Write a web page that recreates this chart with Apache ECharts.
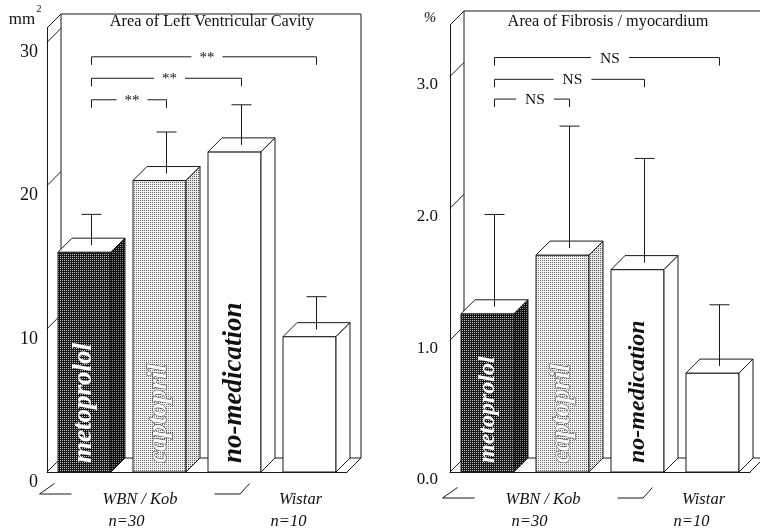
<!DOCTYPE html>
<html><head><meta charset="utf-8">
<script src="https://cdn.jsdelivr.net/npm/echarts@6.0.0/dist/echarts.min.js"></script>
<style>html,body{margin:0;padding:0;background:#fff}#c{width:760px;height:532px}</style>
</head><body><div id="c"></div>
<script>
// ---------------- data ----------------
const categories = ['metoprolol', 'captopril', 'no-medication', 'Wistar'];
const barLabels = ['metoprolol', 'captopril', 'no-medication', ''];
const lvcMean = [15.35, 20.35, 22.35, 9.45];
const lvcSD = [2.15, 2.9, 2.8, 2.3];
const fibMean = [1.2, 1.645, 1.535, 0.75];
const fibSD = [0.7, 0.925, 0.79, 0.465];
const lvcTicks = [0, 10, 20, 30];
const lvcTickLabels = ['0', '10', '20', '30'];
const fibTicks = [0, 1, 2, 3];
const fibTickLabels = ['0.0', '1.0', '2.0', '3.0'];
const lvcBrackets = [[0, 1, 25.5], [0, 2, 27.0], [0, 3, 28.5]];
const lvcBracketText = ['**', '**', '**'];
const fibBrackets = [[0, 1, 2.775], [0, 2, 2.925], [0, 3, 3.09]];
const fibBracketText = ['NS', 'NS', 'NS'];
const groupNames = ['WBN / Kob', 'Wistar'];
const groupSizes = ['n=30', 'n=10'];
const groupCats = [1, 3];
const titles = ['Area of Left Ventricular Cavity', 'Area of Fibrosis / myocardium'];
const unitMain = ['mm', '%'];
const unitSup = ['2', ''];

// ---------------- style ----------------
const LINE = '#1a1a1a';
const SERIF = '"Liberation Serif", "Times New Roman", serif';

function makePattern(size, bg, fg, pts) {
  const c = document.createElement('canvas');
  c.width = c.height = size;
  const g = c.getContext('2d');
  g.fillStyle = bg; g.fillRect(0, 0, size, size);
  g.fillStyle = fg;
  pts.forEach(p => g.fillRect(p[0], p[1], 1, 1));
  return { image: c, repeat: 'repeat' };
}
const darkFront = makePattern(2, '#151515', '#c8c8c8', [[0, 0]]);
const darkSide = makePattern(2, '#0e0e0e', '#909090', [[0, 0]]);
const lightFront = makePattern(2, '#f2f2f2', '#6a6a6a', [[0, 0]]);
const lightSide = makePattern(2, '#e8e8e8', '#5a5a5a', [[0, 0]]);

const barStyles = [
  { front: darkFront, side: darkSide, text: { fill: '#ffffff', stroke: '#444', lw: 0.4 } },
  { front: lightFront, side: lightSide, text: { fill: '#fafafa', stroke: '#222', lw: 0.9 } },
  { front: '#ffffff', side: '#ffffff', text: { fill: '#111111', stroke: null, lw: 0 } },
  { front: '#ffffff', side: '#ffffff', text: { fill: '#111111', stroke: null, lw: 0 } }
];

const panels = [
  { grid: { left: 47, top: 28, width: 300, height: 444 }, max: 31, interval: 10,
    mean: lvcMean, sd: lvcSD, ticks: lvcTicks, tickLabels: lvcTickLabels,
    brackets: lvcBrackets, bracketText: lvcBracketText, title: titles[0],
    unit: unitMain[0], sup: unitSup[0],
    dx: 14, dy: -14, barHalf: 26.5, labelMargin: 9, labelSize: 18, labelShift: 10,
    textSizes: [27, 27, 27, 27], titleX: 212, titleY: 22, titleSize: 16.3,
    markDy: 22, bracketFont: 15, bracketPad: 8,
    unitPos: { x: 22, y: 20, size: 17 }, supPos: { x: 39, y: 9, size: 10 } },
  { grid: { left: 450, top: 25, width: 300, height: 447 }, max: 3.39, interval: 1,
    mean: fibMean, sd: fibSD, ticks: fibTicks, tickLabels: fibTickLabels,
    brackets: fibBrackets, bracketText: fibBracketText, title: titles[1],
    unit: unitMain[1], sup: unitSup[1],
    dx: 14, dy: -14, barHalf: 26.5, labelMargin: 12, labelSize: 17, labelShift: 8,
    textSizes: [24, 27, 24, 24], titleX: 608, titleY: 22, titleSize: 16.3,
    markDy: 26, bracketFont: 15.5, bracketPad: 9,
    unitPos: { x: 430, y: 18, size: 15 }, supPos: { x: 0, y: 0, size: 10 } }
];
const groupStyle = { nameOff: [-19.5, -9], nOff: [-33, -21], nameDy: 28, nDy: 50, size: 16.5 };

function ln(x1, y1, x2, y2) {
  return { type: 'line', shape: { x1: x1, y1: y1, x2: x2, y2: y2 }, style: { stroke: LINE, lineWidth: 1, fill: null } };
}
function txt(x, y, text, font, extra) {
  const st = Object.assign({ text: text, font: font, fill: '#111', align: 'center', verticalAlign: 'middle',
    textAlign: 'center', textVerticalAlign: 'middle' }, extra || {});
  return { type: 'text', x: x, y: y, style: st };
}

function frameRender(P) {
  return function (params, api) {
    const cs = params.coordSys;
    const dx = P.dx, dy = P.dy;
    const L = cs.x, R = cs.x + cs.width;
    const B = api.coord([0, 0])[1], T = api.coord([0, P.max])[1];
    const ch = [];
    ch.push(ln(L + dx, T + dy, L + dx, B + dy));
    ch.push(ln(L + dx, T + dy, R + dx, T + dy));
    ch.push(ln(R + dx, T + dy, R + dx, B + dy));
    ch.push(ln(L + dx, B + dy, R + dx, B + dy));
    ch.push(ln(R, B, R + dx, B + dy));
    ch.push(ln(L, T, L + dx, T + dy));
    P.ticks.forEach(t => { const y = api.coord([0, t])[1]; ch.push(ln(L, y, L + dx, y + dy)); });
    // group marks on the floor
    const c0 = api.coord([0, 0])[0], c2 = api.coord([2, 0])[0];
    const my = B + P.markDy;
    ch.push(ln(c0 - 45, my, c0 - 13, my));
    ch.push(ln(c0 - 45, my, c0 - 30, my - 10.5));
    ch.push(ln(c2 - 20, my, c2 + 5.5, my));
    ch.push(ln(c2 + 5.5, my, c2 + 15, my - 10.5));
    // title and unit
    ch.push(txt(P.titleX, P.titleY, P.title, P.titleSize + 'px ' + SERIF));
    if (P.sup) {
      ch.push(txt(P.unitPos.x, P.unitPos.y, P.unit, P.unitPos.size + 'px ' + SERIF));
      ch.push(txt(P.supPos.x, P.supPos.y, P.sup, P.supPos.size + 'px ' + SERIF));
    } else {
      ch.push(txt(P.unitPos.x, P.unitPos.y, P.unit, 'italic ' + P.unitPos.size + 'px ' + SERIF));
    }
    return { type: 'group', children: ch };
  };
}

function barRender(P) {
  return function (params, api) {
    const i = api.value(0), v = api.value(1), sd = api.value(2);
    const p0 = api.coord([i, 0]), p1 = api.coord([i, v]), pe = api.coord([i, v + sd]);
    const dx = P.dx, dy = P.dy, hw = P.barHalf;
    const x0 = p0[0] - hw, x1 = p0[0] + hw, yb = p0[1], yt = p1[1];
    const st = barStyles[params.dataIndex];
    const ch = [
      { type: 'rect', shape: { x: x0, y: yt, width: x1 - x0, height: yb - yt }, style: { fill: st.front, stroke: LINE, lineWidth: 1 } },
      { type: 'polygon', shape: { points: [[x0, yt], [x1, yt], [x1 + dx, yt + dy], [x0 + dx, yt + dy]] }, style: { fill: '#fff', stroke: LINE, lineWidth: 1 } },
      { type: 'polygon', shape: { points: [[x1, yt], [x1 + dx, yt + dy], [x1 + dx, yb + dy], [x1, yb]] }, style: { fill: st.side, stroke: LINE, lineWidth: 1 } }
    ];
    const ex = p0[0] + dx / 2, ey0 = yt + dy / 2, ey1 = pe[1] + dy / 2;
    ch.push(ln(ex, ey0, ex, ey1));
    ch.push(ln(ex - 10, ey1, ex + 10, ey1));
    const label = barLabels[params.dataIndex];
    if (label) {
      const extra = { fill: st.text.fill, align: 'left', textAlign: 'left' };
      if (st.text.stroke) { extra.stroke = st.text.stroke; extra.lineWidth = st.text.lw; }
      const t = txt(p0[0], yb - 9, label, 'italic bold ' + P.textSizes[params.dataIndex] + 'px ' + SERIF, extra);
      t.rotation = Math.PI / 2;
      ch.push(t);
    }
    return { type: 'group', children: ch };
  };
}

function bracketRender(P) {
  return function (params, api) {
    const a = api.value(0), b = api.value(1), lv = api.value(2);
    const dx = P.dx, dy = P.dy;
    const xa = api.coord([a, lv])[0] + dx / 2, xb = api.coord([b, lv])[0] + dx / 2;
    const y = api.coord([a, lv])[1] + dy / 2;
    const ch = [
      { type: 'polyline', shape: { points: [[xa, y + 8], [xa, y], [xb, y], [xb, y + 8]] }, style: { stroke: LINE, lineWidth: 1, fill: null } },
      txt((xa + xb) / 2 + 3, y + 1, P.bracketText[params.dataIndex], P.bracketFont + 'px ' + SERIF,
        { backgroundColor: '#fff', padding: [0, P.bracketPad] })
    ];
    return { type: 'group', children: ch };
  };
}

function groupRender(P) {
  return function (params, api) {
    const gi = params.dataIndex;
    const c = api.coord([api.value(0), 0]);
    const f = 'italic ' + groupStyle.size + 'px ' + SERIF;
    return { type: 'group', children: [
      txt(c[0] + groupStyle.nameOff[gi], c[1] + groupStyle.nameDy, groupNames[gi], f),
      txt(c[0] + groupStyle.nOff[gi], c[1] + groupStyle.nDy, groupSizes[gi], f)
    ] };
  };
}

const option = {
  animation: false,
  backgroundColor: '#fff',
  grid: panels.map(P => Object.assign({ containLabel: false, outerBoundsMode: 'none' }, P.grid)),
  xAxis: panels.map((P, k) => ({
    type: 'category', gridIndex: k, data: categories, boundaryGap: true,
    axisLine: { show: true, lineStyle: { color: LINE, width: 1 } },
    axisTick: { show: false }, axisLabel: { show: false }, splitLine: { show: false }
  })),
  yAxis: panels.map((P, k) => ({
    type: 'value', gridIndex: k, min: 0, max: P.max, interval: P.interval,
    axisLine: { show: true, lineStyle: { color: LINE, width: 1 } },
    axisTick: { show: false }, splitLine: { show: false },
    axisLabel: {
      show: true, margin: P.labelMargin, fontSize: P.labelSize, fontFamily: SERIF, color: '#111',
      verticalAlign: 'top', lineHeight: 2 * P.labelShift,
      formatter: function (v) {
        const idx = P.ticks.findIndex(t => Math.abs(t - v) < 1e-6);
        return idx >= 0 ? P.tickLabels[idx] : '';
      }
    }
  })),
  series: []
};

panels.forEach((P, k) => {
  option.series.push({ type: 'custom', xAxisIndex: k, yAxisIndex: k, z: 1, renderItem: frameRender(P), data: [[0, 0]], silent: true });
  option.series.push({ type: 'custom', xAxisIndex: k, yAxisIndex: k, z: 2, renderItem: barRender(P),
    data: categories.map((c, i) => [i, P.mean[i], P.sd[i]]), silent: true });
  option.series.push({ type: 'custom', xAxisIndex: k, yAxisIndex: k, z: 3, renderItem: bracketRender(P),
    data: P.brackets.map(b => [b[0], b[1], b[2]]), encode: { x: 0, y: 2 }, silent: true });
  option.series.push({ type: 'custom', xAxisIndex: k, yAxisIndex: k, z: 3, renderItem: groupRender(P),
    data: groupCats.map(g => [g, 0]), silent: true });
});

const chart = echarts.init(document.getElementById('c'), null, { renderer: 'canvas' });
chart.setOption(option);
</script>
</body></html>
